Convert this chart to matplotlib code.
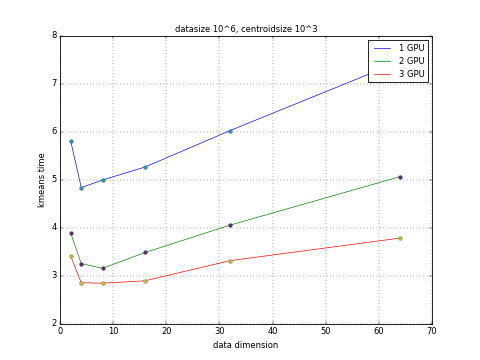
import matplotlib
matplotlib.use('Agg')
import matplotlib.pyplot as plt

plt.style.use('classic')

# data dimension on the x axis
dims = [2, 4, 8, 16, 32, 64]

# kmeans time per GPU count
gpu1 = [5.82, 4.84, 5.00, 5.27, 6.03, 7.47]
gpu2 = [3.90, 3.26, 3.16, 3.49, 4.06, 5.07]
gpu3 = [3.42, 2.86, 2.85, 2.90, 3.32, 3.79]

labels = ['1 GPU', '2 GPU', '3 GPU']
line_colors = ['b', 'g', 'r']
dot_colors = ['#2b98a6', '#5e2a78', '#c4bd3c']

fig = plt.figure(figsize=(8, 6), dpi=60)
ax = fig.add_subplot(111)

for ys, lab, lc, dc in zip([gpu1, gpu2, gpu3], labels, line_colors, dot_colors):
    ax.plot(dims, ys, color=lc, label=lab, linewidth=0.8)
    ax.scatter(dims, ys, c=dc, s=22, edgecolors='#444444', linewidths=0.3, zorder=3)

ax.set_xlim(0, 70)
ax.set_ylim(2, 8)
ax.set_title('datasize 10^6, centroidsize 10^3', fontsize=10)
ax.set_xlabel('data dimension', fontsize=10)
ax.set_ylabel('kmeans time', fontsize=10)
ax.tick_params(labelsize=10)
ax.grid(True)
ax.legend(loc='upper right', fontsize=10, handlelength=2.5)

fig.savefig('out.png', dpi=60)
